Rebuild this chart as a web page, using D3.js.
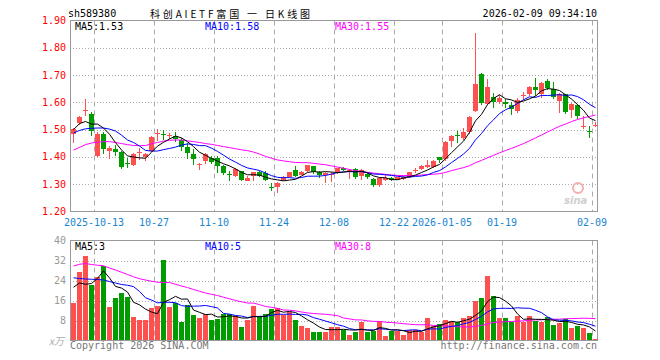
<!DOCTYPE html>
<html><head><meta charset="utf-8">
<script src="https://cdn.jsdelivr.net/npm/d3@7"></script>
<style>
html,body{margin:0;padding:0;background:#fff;}
svg{display:block;}
text{font-family:"DejaVu Sans Mono",monospace;font-size:10px;}
</style></head>
<body><svg id="c" width="660" height="360"></svg>
<script>
const dates = ["2025-09-29","2025-09-30","2025-10-09","2025-10-10",
"2025-10-13","2025-10-14","2025-10-15","2025-10-16","2025-10-17",
"2025-10-20","2025-10-21","2025-10-22","2025-10-23","2025-10-24",
"2025-10-27","2025-10-28","2025-10-29","2025-10-30","2025-10-31",
"2025-11-03","2025-11-04","2025-11-05","2025-11-06","2025-11-07",
"2025-11-10","2025-11-11","2025-11-12","2025-11-13","2025-11-14",
"2025-11-17","2025-11-18","2025-11-19","2025-11-20","2025-11-21",
"2025-11-24","2025-11-25","2025-11-26","2025-11-27","2025-11-28",
"2025-12-01","2025-12-02","2025-12-03","2025-12-04","2025-12-05",
"2025-12-08","2025-12-09","2025-12-10","2025-12-11","2025-12-12",
"2025-12-15","2025-12-16","2025-12-17","2025-12-18","2025-12-19",
"2025-12-22","2025-12-23","2025-12-24","2025-12-25","2025-12-26",
"2025-12-29","2025-12-30","2025-12-31",
"2026-01-05","2026-01-06","2026-01-07","2026-01-08","2026-01-09",
"2026-01-12","2026-01-13","2026-01-14","2026-01-15","2026-01-16",
"2026-01-19","2026-01-20","2026-01-21","2026-01-22","2026-01-23",
"2026-01-26","2026-01-27","2026-01-28","2026-01-29","2026-01-30",
"2026-02-02","2026-02-03","2026-02-04","2026-02-05","2026-02-06",
"2026-02-09"];

const open = [1.484,1.525,1.570,1.558,1.402,1.483,1.420,1.430,1.418,1.376,
1.372,1.415,1.400,1.420,1.483,1.484,1.476,1.478,1.461,1.438,
1.411,1.372,1.385,1.397,1.397,1.366,1.339,1.331,1.347,1.313,
1.331,1.343,1.340,1.290,1.290,1.317,1.328,1.353,1.335,1.347,
1.365,1.343,1.332,1.334,1.341,1.358,1.347,1.356,1.329,1.338,
1.320,1.297,1.314,1.322,1.316,1.320,1.326,1.350,1.355,1.363,
1.364,1.398,1.391,1.457,1.482,1.469,1.493,1.568,1.704,1.593,
1.620,1.603,1.603,1.590,1.567,1.625,1.630,1.657,1.632,1.678,
1.648,1.605,1.629,1.571,1.589,1.508,1.495,1.513];
const high = [1.506,1.551,1.612,1.563,1.490,1.490,1.440,1.445,1.420,1.395,
1.415,1.433,1.413,1.478,1.502,1.500,1.488,1.490,1.469,1.452,
1.428,1.379,1.414,1.403,1.403,1.370,1.348,1.359,1.350,1.330,
1.346,1.347,1.350,1.303,1.307,1.330,1.346,1.365,1.350,1.372,
1.367,1.350,1.343,1.343,1.360,1.362,1.354,1.360,1.355,1.342,
1.323,1.328,1.337,1.325,1.328,1.330,1.346,1.359,1.371,1.390,
1.390,1.400,1.458,1.479,1.495,1.507,1.550,1.855,1.708,1.684,
1.635,1.626,1.611,1.600,1.617,1.639,1.660,1.690,1.674,1.684,
1.676,1.635,1.632,1.598,1.593,1.550,1.513,1.528];
const low = [1.451,1.518,1.550,1.475,1.400,1.410,1.393,1.405,1.356,1.358,
1.368,1.390,1.386,1.418,1.458,1.463,1.466,1.454,1.422,1.391,
1.372,1.351,1.375,1.375,1.342,1.335,1.313,1.328,1.313,1.310,
1.310,1.325,1.310,1.274,1.267,1.310,1.325,1.328,1.332,1.345,
1.339,1.322,1.304,1.308,1.338,1.348,1.318,1.319,1.317,1.320,
1.289,1.290,1.310,1.312,1.314,1.317,1.324,1.341,1.351,1.359,
1.360,1.379,1.385,1.437,1.452,1.463,1.483,1.565,1.590,1.590,
1.580,1.593,1.580,1.554,1.562,1.607,1.625,1.623,1.617,1.644,
1.611,1.562,1.556,1.544,1.538,1.501,1.471,1.510];
const close = [1.502,1.548,1.572,1.495,1.485,1.430,1.434,1.418,1.363,1.373,
1.411,1.418,1.411,1.472,1.486,1.480,1.479,1.467,1.437,1.416,
1.391,1.375,1.411,1.380,1.367,1.342,1.336,1.356,1.317,1.322,
1.343,1.329,1.317,1.286,1.304,1.326,1.343,1.331,1.346,1.369,
1.343,1.333,1.340,1.338,1.358,1.352,1.351,1.326,1.352,1.327,
1.297,1.321,1.322,1.317,1.326,1.328,1.344,1.352,1.365,1.371,
1.386,1.388,1.456,1.477,1.477,1.491,1.548,1.668,1.596,1.656,
1.603,1.617,1.594,1.575,1.610,1.628,1.657,1.644,1.672,1.651,
1.618,1.632,1.565,1.595,1.550,1.512,1.490,1.518];
const volume = [14.9,27.6,34,22.3,25.3,30,13.6,16.9,19.1,17.3,
9.6,8.4,8.4,13.2,14,32.4,13.6,15.1,7.6,14.4,
10.3,8.9,10.7,8.4,8.7,10.7,10.7,9.7,5.3,8.4,
14,10,10.7,12.7,12.9,10.3,11.6,8.4,6,5.2,
3.6,3.6,3.6,5.6,5.3,4.3,2.4,3.3,7.3,3.3,
3.9,8,1.7,3.9,3.9,2,4.4,4.4,3.6,8.9,
6,6.8,8.4,8,7.3,8.9,10,16,16.9,26,
18,8.9,8.9,7.3,10,7.3,9.7,8,7.3,9.3,
6.3,6.9,8.7,4.9,5.7,4.9,2.9,0.4];

// moving-average values before a full window exists
const priceMa5Lead = [1.500,1.522,1.530,1.520];
const priceMa10Lead = [1.488,1.497,1.503,1.505,1.506,1.506,1.502,1.495,1.480];
const priceMa30Lead = [1.425,1.435,1.445,1.451,1.454,1.456,1.456,1.453,1.449,1.445,
1.442,1.441,1.442,1.448,1.453,1.458,1.461,1.462,1.462,1.459,
1.456,1.453,1.449,1.446,1.442,1.438,1.434,1.430,1.426];
const volMa5Lead = [21.3,23.0,22.5,22.8];
const volMa10Lead = [25.1,24.8,24.6,24.5,24.4,24.2,23.6,23.0,22.4];
const volMa30Lead = [29.8,30.5,30.8,30.4,30.1,29.9,29.0,28.2,27.3,26.4,
25.5,24.7,24.2,23.7,23.3,23.2,23.2,22.5,21.8,21.2,
20.4,19.7,19.0,18.5,18.0,17.3,16.7,16.0,15.5];

const priceTicks = [1.20,1.30,1.40,1.50,1.60,1.70,1.80,1.90];
const volTicks = [8,16,24,32,40];
const dateTickDates = ["2025-10-13","2025-10-27","2025-11-10","2025-11-24","2025-12-08","2025-12-22","2026-01-05","2026-01-19","2026-02-09"];
const dateTickLabels = ["2025-10-13","10-27","11-10","11-24","12-08","12-22","2026-01-05","01-19","02-09"];

const code = "sh589380";
const title = "科创AIETF富国 一 日K线图";
const stamp = "2026-02-09 09:34:10";

function movingAvg(vals, n, lead){
  return vals.map((v,i)=> i < n-1 ? lead[i] : d3.mean(vals.slice(i-n+1,i+1)));
}

const svg = d3.select("#c");
const L = 70, R = 598;
const x = d3.scaleBand().domain(dates).range([L, R]).padding(0);
const yP = d3.scaleLinear().domain([1.2,1.9]).range([211.5,20.5]);
const yV = d3.scaleLinear().domain([0,40]).range([340.5,240.5]);

const RED = "#ff5050", GREEN = "#009c00";
const up = i => close[i] >= open[i];

// header
svg.append("text").attr("x",68).attr("y",17).attr("font-size",11).text(code);
svg.append("text").attr("x",150).attr("y",18).attr("font-size",14)
  .attr("textLength",160).attr("lengthAdjust","spacing")
  .style("font-family","'Noto Sans CJK SC',sans-serif").text(title);
svg.append("text").attr("x",597).attr("y",17).attr("text-anchor","end").text(stamp);

function panel(yScale, ticks, tickFmt, labelColor, top, bottom){
  const g = svg.append("g");
  ticks.forEach(t=>{
    const yy = Math.round(yScale(t))+0.5;
    if (yy > top+1 && yy < bottom-1)
      g.append("line").attr("x1",L).attr("x2",597).attr("y1",yy).attr("y2",yy)
       .attr("stroke","#aaa").attr("stroke-dasharray","1,2");
  });
  dateTickDates.forEach(d=>{
    const xx = x(d)+0.5;
    g.append("line").attr("x1",xx).attr("x2",xx).attr("y1",top).attr("y2",bottom)
     .attr("stroke","#aaa").attr("stroke-dasharray","5,4");
  });
  g.append("rect").attr("x",L+0.5).attr("y",top).attr("width",597-L).attr("height",bottom-top)
   .attr("fill","none").attr("stroke","#999");
  ticks.forEach(t=>{
    g.append("text").attr("x",66).attr("y",yScale(t)+3.5).attr("text-anchor","end")
     .attr("fill",labelColor).text(tickFmt(t));
  });
  return g;
}

panel(yP, priceTicks, d=>d.toFixed(2), "#ff0000", 20.5, 211.5);
panel(yV, volTicks, d=>d3.format("d")(d), "#999", 240.5, 340.5);
svg.append("text").attr("x",49).attr("y",345).attr("fill","#aaa").attr("font-size",10)
  .style("font-family","'Noto Sans CJK SC',sans-serif").style("font-style","italic").text("x万");

// watermark
const wm = svg.append("g");
wm.append("circle").attr("cx",578).attr("cy",188).attr("r",5).attr("fill","none").attr("stroke","#f2b0b0").attr("stroke-width",2);
wm.append("text").attr("x",564).attr("y",204).attr("font-size",17).attr("fill","#cfcfcf")
  .style("font-family","'DejaVu Sans',sans-serif").style("font-style","italic").style("font-weight","bold").text("sina");

// date labels
dateTickDates.forEach((d,k)=>{
  svg.append("text").attr("x",x(d)).attr("y",226).attr("text-anchor","middle")
    .attr("fill","#1a86d0").text(dateTickLabels[k]);
});

// candles
const cg = svg.append("g");
dates.forEach((d,i)=>{
  const b = x(d);
  const col = up(i) ? RED : GREEN;
  cg.append("line").attr("x1",b+3.5).attr("x2",b+3.5)
    .attr("y1",Math.round(yP(high[i]))).attr("y2",Math.round(yP(low[i])))
    .attr("stroke",col);
  const y1 = Math.round(yP(Math.max(open[i],close[i])));
  const y2 = Math.round(yP(Math.min(open[i],close[i])));
  cg.append("rect").attr("x",b+1).attr("width",5).attr("y",y1).attr("height",Math.max(1,y2-y1)).attr("fill",col);
});

// volume bars
const vg = svg.append("g");
dates.forEach((d,i)=>{
  const b = x(d);
  const yt = Math.round(yV(volume[i]));
  vg.append("rect").attr("x",b+1).attr("width",5).attr("y",yt).attr("height",Math.max(0,340-yt))
    .attr("fill", up(i) ? RED : GREEN);
});

// moving averages
const pMa5 = movingAvg(close,5,priceMa5Lead), pMa10 = movingAvg(close,10,priceMa10Lead), pMa30 = movingAvg(close,30,priceMa30Lead);
const vMa5 = movingAvg(volume,5,volMa5Lead), vMa10 = movingAvg(volume,10,volMa10Lead), vMa30 = movingAvg(volume,30,volMa30Lead);
function drawLine(vals, yScale, color){
  const ln = d3.line().x((v,i)=>x(dates[i])+3.5).y(v=>yScale(v));
  svg.append("path").attr("d",ln(vals)).attr("fill","none").attr("stroke",color).attr("stroke-width",1);
}
drawLine(pMa30,yP,"#ff00ff"); drawLine(pMa10,yP,"#0000ff"); drawLine(pMa5,yP,"#000");
drawLine(vMa30,yV,"#ff00ff"); drawLine(vMa10,yV,"#0000ff"); drawLine(vMa5,yV,"#000");

// MA labels
const last = a => a[a.length-1];
function maLabels(yy, a5, a10, a30){
  svg.append("text").attr("x",75).attr("y",yy).attr("fill","#000").text("MA5:"+a5);
  svg.append("text").attr("x",205).attr("y",yy).attr("fill","#0000ff").text("MA10:"+a10);
  svg.append("text").attr("x",335).attr("y",yy).attr("fill","#ff00ff").text("MA30:"+a30);
}
maLabels(30, last(pMa5).toFixed(2), last(pMa10).toFixed(2), last(pMa30).toFixed(2));
maLabels(250, Math.floor(last(vMa5)), Math.floor(last(vMa10)), Math.floor(last(vMa30)));

// footer
svg.append("text").attr("x",70).attr("y",349).attr("fill","#777").text("Copyright 2026 SINA.COM");
svg.append("text").attr("x",597).attr("y",349).attr("text-anchor","end").attr("fill","#777").text("http://finance.sina.com.cn");
</script></body></html>
